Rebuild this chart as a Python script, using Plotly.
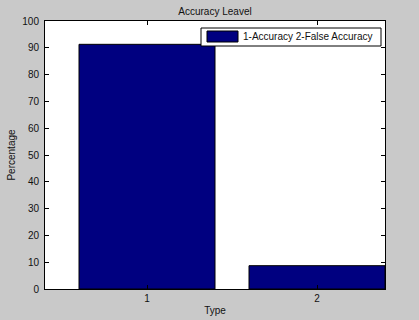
import plotly.graph_objects as go

categories = [1, 2]
values = [91.3, 8.7]
legend_label = "1-Accuracy 2-False Accuracy"
title_text = "Accuracy Leavel"
x_title = "Type"
y_title = "Percentage"
y_ticks = list(range(0, 101, 10))

BG = "#c9c9c9"
NAVY = "#000080"
FONT = "Liberation Sans, Arial, sans-serif"

fig = go.Figure()
fig.add_trace(go.Bar(
    x=categories, y=values, width=0.8,
    marker=dict(color=NAVY, line=dict(color="black", width=1)),
    showlegend=False, name=legend_label,
))

W, H = 419, 320
L, R, T, B = 45, 34, 21, 31

fig.update_layout(
    width=W, height=H,
    margin=dict(l=L, r=R, t=T, b=B, pad=0),
    paper_bgcolor=BG, plot_bgcolor="white",
    font=dict(family=FONT, size=10, color="#111111"),
    title=dict(text=title_text, x=(L + (W - L - R) / 2) / W, xanchor="center",
               y=1 - 11 / H, yanchor="middle", font=dict(size=10)),
    xaxis=dict(range=[0.4, 2.4], tickvals=categories, ticktext=[str(c) for c in categories],
               ticks="inside", ticklen=4, tickcolor="black", showline=True, linecolor="black",
               linewidth=1, mirror="allticks", showgrid=False, zeroline=False,
               automargin=False, tickfont=dict(size=10),
               title=dict(text=x_title, standoff=3, font=dict(size=10))),
    yaxis=dict(range=[0, 100], tickvals=y_ticks, ticks="inside", ticklen=4, tickcolor="black",
               showline=True, linecolor="black", linewidth=1, mirror="allticks",
               showgrid=False, zeroline=False, automargin=False, tickfont=dict(size=10),
               ticklabelstandoff=3,
               title=dict(text=y_title, standoff=4, font=dict(size=10))),
    showlegend=False,
)

# MATLAB-style legend box (paper coordinates)
pw, ph = W - L - R, H - T - B
def px(x): return (x - L) / pw
def py(y): return 1 - (y - T) / ph

fig.add_shape(type="rect", xref="paper", yref="paper",
              x0=px(201), x1=px(381), y0=py(46), y1=py(28),
              fillcolor="white", line=dict(color="black", width=1))
fig.add_shape(type="rect", xref="paper", yref="paper",
              x0=px(207), x1=px(238), y0=py(42), y1=py(31),
              fillcolor=NAVY, line=dict(color="black", width=1))
fig.add_annotation(xref="paper", yref="paper", x=px(241), y=py(37), text=legend_label,
                   showarrow=False, xanchor="left", yanchor="middle", font=dict(size=10))

fig.write_html("out.html")
